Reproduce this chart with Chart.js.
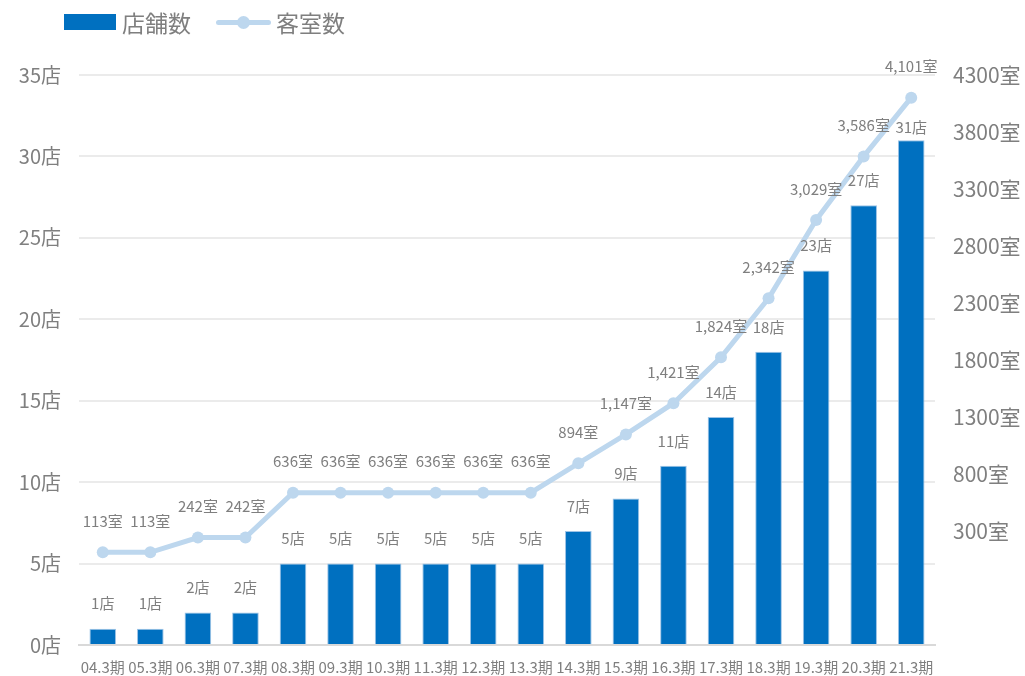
<!DOCTYPE html>
<html>
<head>
<meta charset="utf-8">
<script src="https://cdn.jsdelivr.net/npm/chart.js@4.4.0/dist/chart.umd.min.js"></script>
<style>
  body { margin: 0; background: #fff; }
  #wrap { position: relative; width: 1025px; height: 676px; }
  #legend { position: absolute; left: 64px; top: 5px; font-family: "Noto Sans CJK JP", sans-serif; font-size: 23px; color: #7f7f7f; display: flex; align-items: center; }
  .sw-bar { display: inline-block; width: 52px; height: 16px; background: #0070c0; margin-right: 6px; }
  .sw-line { display: inline-block; position: relative; width: 55px; height: 16px; margin-left: 25px; margin-right: 5px; }
  .sw-line:before { content: ""; position: absolute; left: 0; right: 0; top: 6px; height: 5px; border-radius: 3px; background: #bdd7ee; }
  .sw-line:after { content: ""; position: absolute; left: 21px; top: 2px; width: 13px; height: 13px; border-radius: 50%; background: #bdd7ee; }
</style>
</head>
<body>
<div id="wrap">
  <canvas id="myChart" width="1025" height="676"></canvas>
  <div id="legend"><span class="sw-bar"></span>店舗数<span class="sw-line"></span>客室数</div>
</div>
<script>
var periods = ["04.3期","05.3期","06.3期","07.3期","08.3期","09.3期","10.3期","11.3期","12.3期","13.3期","14.3期","15.3期","16.3期","17.3期","18.3期","19.3期","20.3期","21.3期"];
var stores = [1, 1, 2, 2, 5, 5, 5, 5, 5, 5, 7, 9, 11, 14, 18, 23, 27, 31];
var rooms = [113, 113, 242, 242, 636, 636, 636, 636, 636, 636, 894, 1147, 1421, 1824, 2342, 3029, 3586, 4101];

var font = '"Noto Sans CJK JP", sans-serif';
var gray = '#7f7f7f';

// labels above bars and points
var valueLabels = {
  id: 'valueLabels',
  afterDatasetsDraw: function(chart) {
    var c = chart.ctx;
    c.save();
    c.font = '15px ' + font;
    c.fillStyle = gray;
    c.textAlign = 'center';
    c.textBaseline = 'middle';
    chart.getDatasetMeta(0).data.forEach(function(el, i) {
      var off = (i == stores.length - 1) ? 13 : 25;
      c.fillText(stores[i] + '店', el.x, el.y - off);
    });
    chart.getDatasetMeta(1).data.forEach(function(el, i) {
      c.fillText(rooms[i].toLocaleString('en-US') + '室', el.x, el.y - 31);
    });
    c.restore();
  }
};

var ctx = document.getElementById("myChart");
var myChart = new Chart(ctx, {
  type: 'bar',
  data: {
    labels: periods,
    datasets: [{
      label: '店舗数',
      data: stores,
      backgroundColor: '#0070c0',
      borderColor: '#9dc3e6',
      borderWidth: 1,
      categoryPercentage: 1,
      barPercentage: 0.56,
      yAxisID: 'y',
      order: 2
    }, {
      type: 'line',
      label: '客室数',
      data: rooms,
      borderColor: '#bdd7ee',
      backgroundColor: '#bdd7ee',
      borderWidth: 5,
      pointRadius: 6,
      pointBorderWidth: 0,
      tension: 0,
      yAxisID: 'y2',
      order: 1
    }]
  },
  options: {
    responsive: false,
    animation: false,
    layout: { padding: { top: 75, left: 0, right: 0, bottom: 0 } },
    plugins: { legend: { display: false }, tooltip: { enabled: false } },
    scales: {
      x: {
        grid: { display: false },
        border: { color: '#d9d9d9', width: 2 },
        ticks: { color: gray, font: { family: font, size: 15 }, autoSkip: false, maxRotation: 0, padding: 5 },
        afterFit: function(s) { s.height = 31; }
      },
      y: {
        position: 'left',
        min: 0, max: 35,
        ticks: { stepSize: 5, color: gray, font: { family: font, size: 20 }, padding: 18, callback: function(v) { return v + '店'; } },
        grid: { color: '#ebebeb', lineWidth: 2, drawTicks: false },
        border: { display: false },
        afterFit: function(s) { s.width = 79; }
      },
      y2: {
        position: 'right',
        min: -700, max: 4300,
        ticks: { stepSize: 500, color: gray, font: { family: font, size: 21 }, padding: 18, callback: function(v) { return v < 0 ? '' : v + '室'; } },
        grid: { display: false, drawTicks: false },
        border: { display: false },
        afterFit: function(s) { s.width = 90; }
      }
    }
  },
  plugins: [valueLabels]
});
</script>
</body>
</html>
